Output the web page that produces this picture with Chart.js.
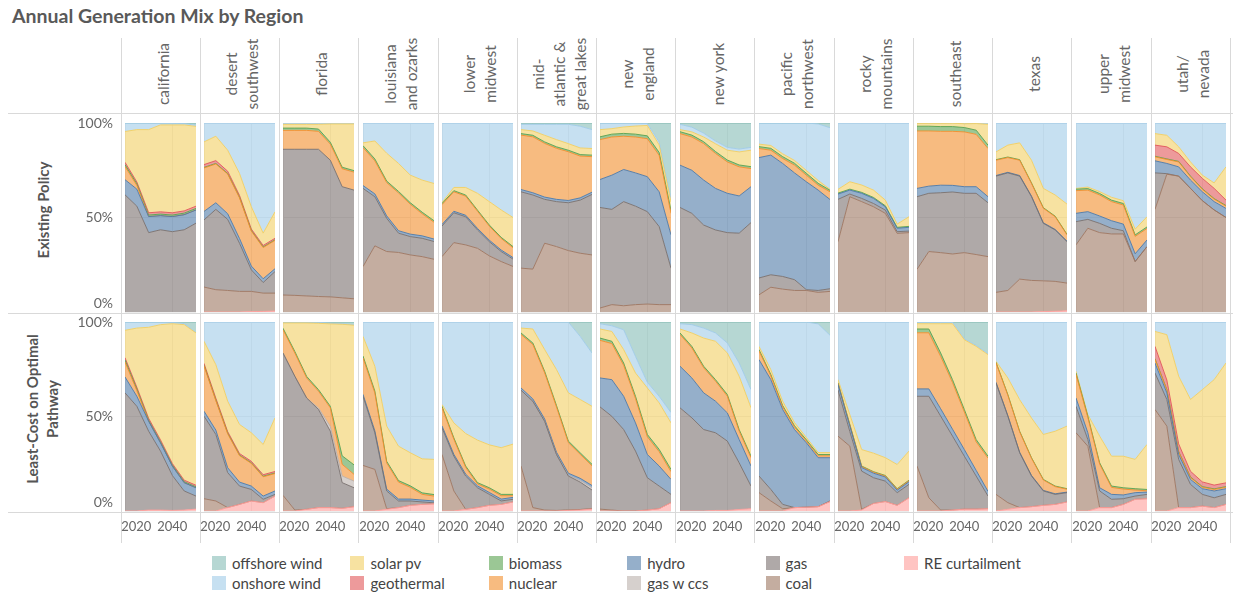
<!DOCTYPE html>
<html>
<head>
<meta charset="utf-8">
<script src="https://cdn.jsdelivr.net/npm/chart.js@4.4.1/dist/chart.umd.min.js"></script>
<style>
  body { margin: 0; background: #fff; font-family: Lato, sans-serif; }
  #wrap { position: relative; width: 1233px; height: 594px; overflow: hidden; }
  .title { position: absolute; left: 12px; top: 4px; font-size: 19.5px; font-weight: bold; color: #595959; white-space: nowrap; }
  .vline { position: absolute; width: 1px; background: #d9d9d9; }
  .hline { position: absolute; height: 1px; background: #d9d9d9; }
  .colhead { position: absolute; width: 76px; text-align: center; color: #666; font-size: 15.5px; line-height: 21px;
             transform: translate(-50%, -50%) rotate(-90deg); white-space: nowrap; }
  .rowhead { position: absolute; width: 190px; text-align: center; color: #555; font-size: 15px; font-weight: bold;
             line-height: 20px; transform: translate(-50%, -50%) rotate(-90deg); white-space: nowrap; }
  .lgbox { position: absolute; width: 14px; height: 14px; }
  .lgtxt { position: absolute; font-size: 15px; color: #444; line-height: 18px; white-space: nowrap; }
  canvas { position: absolute; }
</style>
</head>
<body>
<div id="wrap">
  <div class="title">Annual Generation Mix by Region</div>
</div>
<script>
// years and regions
const years = [2020, 2025, 2030, 2035, 2040, 2045, 2050];
const regions = [
  ['california'], ['desert', 'southwest'], ['florida'], ['louisiana', 'and ozarks'],
  ['lower', 'midwest'], ['mid-', 'atlantic &', 'great lakes'], ['new', 'england'], ['new york'],
  ['pacific', 'northwest'], ['rocky', 'mountains'], ['southeast'], ['texas'],
  ['upper', 'midwest'], ['utah/', 'nevada']
];
const scenarios = [['Existing Policy'], ['Least-Cost on Optimal', 'Pathway']];
const xTicks = [2020, 2040];
const yTicks = [0, 0.5, 1];

// share of generation (%), one row per region, one value per year
// --- Existing Policy ---
const curtExisting = [
  [0,0,0,0,0,0,0], [0,0,0,0,0.2,0.3,0.5], [0,0,0,0,0,0,0], [0,0,0,0,0,0,0],
  [0,0,0,0,0,0,0], [0,0,0,0,0,0,0], [0,0,0,0,0,0,0], [0,0,0,0,0,0,0],
  [0,0,0,0,0,0,0], [0,0,0,0,0,0,0], [0,0,0,0,0,0,0], [0,0,0,0,0.2,0.4,0.6],
  [0,0,0,0,0,0,0], [0,0,0,0,0,0,0]
];
const coalExisting = [
  [0,0,0,0,0,0,0], [13.2,11.8,11.4,10.9,10.7,9.7,9.5], [9,8.8,8.5,8.2,8,7.5,7], [24,35,32,31.5,30.2,29.3,27.9],
  [29.3,36.7,35.5,33.7,29.7,26.7,24.1], [23.2,22.7,36.4,34.6,32.5,31.1,30.2], [2.1,3.9,3.3,3.9,4.2,3.9,3.9], [0,0,0,0,0,0,0],
  [9.1,13.1,12.1,11.4,11.4,10.4,10.9], [37.2,61,58.4,55.7,52.2,41.6,42], [22.6,32,31.4,30.7,31.4,30.4,29.3], [10.4,11.4,17.4,16.7,16.3,15.8,14.7],
  [35.5,44.3,42,41.3,41.3,26.7,34.6], [54.3,72.9,71.9,65.4,58.9,54,50]
];
const gasExisting = [
  [62,56,42,43.5,42.5,43.5,47], [35.5,42.5,37.6,25.5,11.4,5.6,11.4], [77.1,77.3,77.6,77.9,72.3,58.8,57.5], [41.4,26,17.6,10.2,9.7,9.7,9.4],
  [16.2,15.8,14.9,9.7,7.5,5.3,3.9], [40.4,39.2,23.2,23.8,25.3,28.1,32], [53.2,50.4,55.1,52.1,48.9,41.3,19.3], [55.3,52.2,46,43.4,42,41.7,47.3],
  [8.9,6.6,6.7,5.7,0.4,1,1.4], [22.4,1.4,1.7,1.7,1.7,0.9,0.8], [38.4,30.8,31.7,32.8,31.4,32.4,28.5], [61.5,62.2,54.5,44.3,30.4,27.2,21.9],
  [12.3,4.7,4.9,3,1.7,0,0], [19.3,0.3,0,0,0,0,0]
];
const ccsExisting = [
  [0,0,0,0,0,0,0], [0,0,0,0,0,0,0], [0,0,0,0,0,0,0], [0,0,0,0,0,0,0],
  [0,0,0,0,0,0,0], [0,0,0,0,0,0,0], [0,0,0,0,0,0,0], [0,0,0,0,0,0,0],
  [0,0,0,0,0,0,0], [0,0,0,0,0,0,0], [0,0,0,0,0,0,0], [0,0,0,0,0,0,0],
  [0,0,0,0,0,0,0], [0,0,0,0,0,0,0]
];
const hydroExisting = [
  [8,9,8.5,7.5,8,8,7], [4.5,3.5,3,2.5,2,2,1.5], [0,0,0,0,0,0,0], [1.5,1.5,1.3,1.3,1.3,1.3,1.3],
  [0.8,0.8,0.8,0.8,0.8,0.8,0.8], [1.2,1.2,1.2,1.2,1.2,1.2,1.2], [14.8,18.1,17,17.6,18.5,18.4,17.6], [22.4,22.8,23.8,22,20.8,19.7,19],
  [63.7,63.3,59.8,56.5,57.1,53.1,47.2], [2.8,2.1,2.7,2.7,1.8,1.8,2], [4.4,3.8,4,3.5,3.5,3.5,3.2], [0.3,0.3,0.3,0.3,0.3,0.3,0.3],
  [4.4,4.1,3.9,4,3.5,4.1,3.5], [6.4,5.4,4.9,4.4,4.7,4.4,4.8]
];
const nuclearExisting = [
  [7,2,0,0,0,0,0], [23,20.5,21,21.5,18.5,16.5,15], [10,10,10,9.5,8.5,9.5,9.5], [20.1,17.5,17.6,20,15.8,11.7,8.9],
  [10.5,10.3,10.1,9.1,7.4,6.1,5.2], [28.8,29.6,28.4,27,25.8,22.1,18.8], [21.1,20.2,17.6,19,20.1,19.3,11.4], [16.7,17.6,19.3,18.5,16.6,15.4,9.6],
  [4.8,2.6,2.6,4.1,3.5,2.6,4.1], [0,0,0,0,0,0,0], [30.4,29.2,28.5,28.6,29,27.7,25.5], [8.1,7.8,8.1,6.7,7.7,6.7,3.3],
  [12,11.4,11.1,10.1,10.1,9.2,6.1], [2.1,2.1,2.6,1.8,1.3,1.3,1.2]
];
const biomassExisting = [
  [1,0.8,0.8,0.8,0.8,0.8,0.8], [0.3,0.3,0.3,0.3,0.3,0.3,0.3], [1.2,1.2,1.2,1.2,1,0.8,0.8], [1,1,0.8,0.8,0.8,0.8,0.8],
  [0.6,0.6,0.6,0.6,0.6,0.6,0.6], [0.8,0.8,0.8,0.8,0.8,0.8,0.8], [1.5,1.5,1.5,1.5,1.5,1.5,1.5], [1,1,1,1,1,1,1],
  [1,1,1,1,1,1,0.8], [0.5,0.5,0.5,0.5,0.5,0.5,0.5], [2.5,2.5,2.5,2.5,2.3,2.2,1.8], [0.3,0.3,0.3,0.3,0.3,0.3,0.3],
  [0.8,0.8,0.8,0.8,0.8,0.8,0.8], [0.3,0.3,0.3,0.3,0.3,0.3,0.3]
];
const geoExisting = [
  [1.2,1,1.2,1.2,1.2,1.2,1.2], [1.5,1.5,1.2,1,0.8,0.8,0.8], [0,0,0,0,0,0,0], [0,0,0,0,0,0,0],
  [0,0,0,0,0,0,0], [0,0,0,0,0,0,0], [0,0,0,0,0,0,0], [0,0,0,0,0,0,0],
  [0,0,0,0,0,0,0], [0,0,0,0,0,0,0], [0,0,0,0,0,0,0], [0,0,0,0,0,0,0],
  [0,0,0,0,0,0,0], [5.9,6.4,4.2,4.9,5.5,5.4,2.9]
];
const solarExisting = [
  [16.3,27.7,44,46,46.5,45.5,42.2], [12,12.9,11.1,11.6,11.8,6.5,14], [2,2,2,2.5,9.7,22.9,24.7], [1.5,9.5,14.7,14.8,14.6,17,19.7],
  [0.5,1.7,4,8.9,12.4,14.5,15.4], [2.1,2.3,3.5,3.8,3.5,3.5,3.5], [3.8,2.9,3.4,4.3,5.5,4,4.5], [1.1,1.7,2.5,4.1,5.2,6.9,8.7],
  [1.3,1.5,1.5,1.5,1.5,1.5,0.5], [2,3.9,3.9,3.9,3,1.7,5.1], [1.5,1.5,1.7,1.8,2,3.5,11], [4.1,6.3,8.9,12,10.2,11.2,16],
  [0.4,0.8,1,1.5,1.5,3,5.4], [6.1,6.1,3.5,2.6,1.7,2.9,17.6]
];
const onshoreExisting = [
  [4.5,3.5,3.5,1,1,0.7,0.6], [10,7,14.4,26.7,44.3,58.3,47], [0.7,0.7,0.7,0.7,0.5,0.5,0.5], [10.5,9.5,16,21.4,27.6,30.2,32],
  [42.1,34.1,34.1,37.2,41.6,46,50], [2.8,3.5,5.8,8.1,10.2,11.5,10], [3.5,3,2.1,1.6,1,1.5,1.5], [2.8,2.5,2,1.5,1.5,1.5,1.5],
  [11.2,11.9,16.3,19.8,25.1,29.9,32.6], [35.1,31.1,32.8,35.5,40.8,53.5,49.6], [0.2,0.2,0.2,0.2,0.2,0.3,0.7], [15.3,11.7,10.5,19.7,34.6,38.1,42.9],
  [34.6,33.9,36.3,39.3,41.1,56.2,49.6], [5.6,6.5,12.6,20.6,27.6,31.7,23.2]
];
const offshoreExisting = [
  [0,0,0,0,0,0.3,1.2], [0,0,0,0,0,0,0], [0,0,0,0,0,0,0], [0,0,0,0,0,0,0],
  [0,0,0,0,0,0,0], [0.7,0.7,0.7,0.7,0.7,1.7,3.5], [0,0,0,0,0.3,10.1,40.3], [0.7,2.2,5.4,9.5,12.9,13.8,12.9],
  [0,0,0,0,0,0.5,2.5], [0,0,0,0,0,0,0], [0,0,0,0,0,0,0], [0,0,0,0,0,0,0],
  [0,0,0,0,0,0,0], [0,0,0,0,0,0,0]
];

// --- Least-Cost on Optimal Pathway ---
const curtLeastCost = [
  [0,0,0.5,0.5,0.3,0.5,1], [0,0,1.8,3.5,5.3,4.4,7.9], [0,0,0.9,1.8,1.8,1.4,2.3], [0,0,0.9,1.8,3,3.5,3.8],
  [0,0,0.9,1.8,3,3.5,4.8], [0,0,0,0,0.3,0.5,1], [0,0,0,0,0.5,1.2,4.4], [0,0,0,0.3,0.3,0.8,1.2],
  [0,0,0,1.8,2,2.3,5], [0,0,0.5,4,5,3,7], [0,0,0,0.5,1,1,1.2], [0,0.9,1.8,2.3,3,3.5,4.8],
  [0,0,1.8,1.8,3.5,6.2,6.5], [0,0,1.8,1.8,2.6,1.8,3.5]
];
const coalLeastCost = [
  [0,0,0,0,0,0,0], [6.5,5.3,0,0,0,0,0], [8.3,0.5,0,0,0,0,0], [24.1,22,0.3,0,0,0,0],
  [29.9,10.6,0,0,0,0,0], [23.8,1.8,0.5,0.3,0.3,0.3,0.3], [1,0.5,0,0,0,0,0], [0,0,0,0,0,0,0],
  [9.7,5.3,1.2,0,0,0,0], [39.6,34.3,0.4,0,0,0,0], [23.8,7,0.5,0,0,0,0], [8.8,3.5,0,0,0,0,0],
  [41.4,34.3,0,0,0,0,0], [53.7,44.9,0,0,0,0,0]
];
const gasLeastCost = [
  [62.5,55.4,41.7,31.2,18.5,10.1,6.9], [43.7,35.2,18.5,9.7,6.1,1.8,0.9], [75.3,70.8,58.9,51.9,40.4,13.6,10], [36.6,19.4,9.4,3.5,2.3,1.3,0.5],
  [14.1,18.4,17.6,10.5,5.8,1.8,1.4], [40.1,56.3,47,29.6,17.9,14.5,9.8], [54.1,49.6,43.1,31.7,17.1,12,4.4], [54.6,49.3,43.1,41.1,36.7,24.7,12],
  [8.8,6.1,2.3,0,0,0,0.3], [24.4,7.7,20.2,13.6,10.8,6.7,7.1], [36.9,53.7,49.7,39.1,28,17.5,6.7], [59,45.8,29,16.2,7.6,5.3,4.9],
  [14,3.5,8.8,4.4,3,1.7,2.3], [19.3,14.1,25.5,12.3,6.2,5.2,5.3]
];
const ccsLeastCost = [
  [0,0,0,0,0,0,0], [0,0,0,0,0,0,0], [0,0,0,0.8,2.5,3.5,3.5], [0,0,0,0,0,0,0],
  [0,0,0,0,0,0,0], [0,0,0,0,0.3,0.8,1.2], [0,0,0,0,0,0,0], [0,0,0,0,0,0,0],
  [0,0,0,0,0,0,0], [0,0,0,0,0,0,0], [0,0,0,0,0,0,0], [0,0,0,0,0,0,0],
  [0,0,0,0,0,0,0], [0,0,0,0,0,0,0]
];
const hydroLeastCost = [
  [8.4,5.3,5.3,4.4,5,4.4,4.4], [2.6,2.3,2.6,2.1,1.8,1.7,1.8], [0,0,0,0,0,0,0], [1,1,1,1,1,1,1],
  [1,1,1,1,1,1,1], [1.2,1.2,1.2,1.2,1.2,1.2,1.2], [15.3,19.4,17.6,14.9,12.3,10.6,7.9], [22,21.1,19.4,16.7,14.9,12.3,10.6],
  [61.6,58.1,50.2,41.3,34.1,25.9,22.9], [3,3,1.9,2.4,2.2,1.3,1.4], [3.9,3.9,3.9,3.7,3.5,3,2.5], [0.3,0.3,0.3,0.3,0.3,0.3,0.3],
  [4.4,3.6,1.7,2.6,2,1.8,1.2], [5.3,3.5,2.6,2.6,3,3.6,3]
];
const nuclearLeastCost = [
  [8,3,0,0,0,0,0], [24,15.6,18,14,12,10.2,9.2], [12.3,12.3,10.6,8.9,9.9,6.2,3.6], [19.3,20.1,13.9,9,6.2,3,2.6],
  [9.7,8,3.6,1,1.8,1.8,0.9], [28.3,28.8,24.4,23.9,16.2,12.7,10.4], [19.9,19.1,16.4,12.9,9.4,7.6,4.1], [16.8,15.9,13.3,10.6,8.9,4.5,4.4],
  [4.6,2,1.4,1.3,0.9,1,1], [0.5,0.5,0.5,0.5,0.5,0.5,0.5], [29.7,29.7,27.7,24.7,19.9,15.1,17.6], [10.3,10.8,10.8,9.1,5.5,3.8,1.5],
  [12.5,8.1,12.5,3.7,3.1,1.4,0.7], [2,1.5,1.3,1,0.8,0.8,0.8]
];
const biomassLeastCost = [
  [1,0.8,0.5,0.5,0.5,0.5,0.5], [0.3,0.3,0.3,0.3,0.3,0.3,0.3], [0.8,0.8,0.8,0.8,0.8,4.5,5], [1,1,0.8,0.8,0.8,0.8,0.8],
  [0.7,0.7,0.7,0.7,0.7,0.7,0.7], [0.8,0.8,0.8,0.8,0.8,0.8,0.8], [1.2,1.2,1.2,1.2,1.2,1.2,1.2], [0.8,0.8,0.8,0.8,0.8,0.8,0.8],
  [0.7,0.7,0.7,0.7,0.7,0.7,0.7], [0.3,0.3,0.3,0.3,0.3,0.3,0.3], [2,2,1.8,1.5,1.3,1.2,1], [0.3,0.3,0.3,0.3,0.3,0.3,0.3],
  [0.7,0.7,0.7,0.7,0.7,0.7,0.7], [0.3,0.3,0.3,0.3,0.3,0.3,0.3]
];
const geoLeastCost = [
  [1.2,1,1,1,0.8,0.8,0.8], [1,1,0.8,0.8,0.8,0.8,0.8], [0,0,0,0,0,0,0], [0,0,0,0,0,0,0],
  [0,0,0,0,0,0,0], [0,0,0,0,0,0,0], [0,0,0,0,0,0,0], [0,0,0,0,0,0,0],
  [0,0,0,0,0,0,0], [0,0,0,0,0,0,0], [0,0,0,0,0,0,0], [0,0,0,0,0,0,0],
  [0,0,0,0,0,0,0], [6.5,5,4,3,2.5,2,2]
];
const solarLeastCost = [
  [14.5,31.3,48.2,61,74,82.3,80.6], [11.7,17.7,16.1,15.4,15.1,16,28.4], [2.8,15.1,28.3,35.1,43.6,69.6,73.9], [10.4,13.1,18.6,18.2,17.5,18,18.6],
  [0.9,7.9,17.2,22.5,22.7,24.7,26.6], [2.6,7.4,11.5,19,25.5,28.2,30.7], [4.8,5.2,7.1,12.3,24.6,24.6,24.6], [2.1,7.1,14.9,20.3,22,28.2,25.6],
  [1.7,2.6,2.3,1.7,1.2,1,1], [1.7,5.2,8.7,9.8,9.4,12.8,15.4], [2.8,2.8,15.5,29.6,36.9,49.3,53.7], [0.5,8.8,16.7,21,23.8,29,33.1],
  [0.9,0.8,14.1,15.8,16.7,15.5,23.8], [7.9,24,35.8,38,48.8,55.8,63.4]
];
const onshoreLeastCost = [
  [4.4,3.2,2.8,1.4,0.7,0.6,0.2], [10.2,22.6,41.9,54.2,58.6,64.8,50.7], [0.5,0.5,0.5,0.5,0.3,0.2,0.2], [7.6,23.4,55.1,65.7,69.2,72.4,72.7],
  [43.7,53.4,59,62.5,65,66.5,64.5], [3.2,3.7,14.6,25.2,37.5,33.4,28.2], [2.8,3,10.5,8.8,3,3.5,5.5], [2.8,4.4,5.3,4.4,5.3,7,9.6],
  [12.9,25.2,41.9,53.2,61.1,68.1,62.1], [30.5,49,67.5,69.4,71.8,75.4,68.3], [0.9,0.9,0.9,0.9,0.5,0.5,0.5], [20.8,29.6,41.1,50.8,59.5,57.8,55.1],
  [26.1,49,60.4,71,71,72.7,64.8], [5,6.7,28.7,41,35.8,30.5,21.7]
];
const offshoreLeastCost = [
  [0,0,0,0,0.2,0.8,5.6], [0,0,0,0,0,0,0], [0,0,0,0.2,0.7,1,1.5], [0,0,0,0,0,0,0],
  [0,0,0,0,0,0,0], [0,0,0,0,0,7.6,16.4], [0.9,2,4.1,18.2,31.9,39.3,47.9], [0.9,1.4,3.2,5.8,11.1,21.7,35.8],
  [0,0,0,0,0,1,7], [0,0,0,0,0,0,0], [0,0,0,0,8.9,12.4,16.8], [0,0,0,0,0,0,0],
  [0,0,0,0,0,0,0], [0,0,0,0,0,0,0]
];

// stacking order: bottom to top
const techs = [
  { name: 'RE curtailment', color: '#FF9D9A', values: [curtExisting, curtLeastCost] },
  { name: 'coal', color: '#9D7660', values: [coalExisting, coalLeastCost] },
  { name: 'gas', color: '#79706E', values: [gasExisting, gasLeastCost] },
  { name: 'gas w ccs', color: '#BAB0AC', values: [ccsExisting, ccsLeastCost] },
  { name: 'hydro', color: '#4E79A7', values: [hydroExisting, hydroLeastCost] },
  { name: 'nuclear', color: '#F28E2B', values: [nuclearExisting, nuclearLeastCost] },
  { name: 'biomass', color: '#59A14F', values: [biomassExisting, biomassLeastCost] },
  { name: 'geothermal', color: '#E15759', values: [geoExisting, geoLeastCost] },
  { name: 'solar pv', color: '#F1CE63', values: [solarExisting, solarLeastCost] },
  { name: 'onshore wind', color: '#A0CBE8', values: [onshoreExisting, onshoreLeastCost] },
  { name: 'offshore wind', color: '#86BCB6', values: [offshoreExisting, offshoreLeastCost] }
];

// legend layout (column, row) like the original
const legendOrder = [
  ['offshore wind', 0, 0], ['onshore wind', 0, 1], ['solar pv', 1, 0], ['geothermal', 1, 1],
  ['biomass', 2, 0], ['nuclear', 2, 1], ['hydro', 3, 0], ['gas w ccs', 3, 1],
  ['gas', 4, 0], ['coal', 4, 1], ['RE curtailment', 5, 0]
];

function fade(hex, a) {
  const n = parseInt(hex.slice(1), 16);
  return `rgba(${n >> 16},${(n >> 8) & 255},${n & 255},${a})`;
}

const wrap = document.getElementById('wrap');
function add(cls, css, html) {
  const d = document.createElement('div');
  d.className = cls;
  d.style.cssText = css;
  if (html) d.innerHTML = html;
  wrap.appendChild(d);
  return d;
}

// geometry
const divider = k => 120.7 + 79.22 * k;
const plotLeft = k => Math.round(divider(k) + 4.3);
const plotW = 71, plotH = 189;
const rowTop = [123, 322];

// frame lines
add('hline', 'left:8px;top:113px;width:1225px');
add('hline', 'left:8px;top:313px;width:1225px');
add('hline', 'left:8px;top:512px;width:1225px');
for (let k = 0; k <= regions.length; k++) {
  add('vline', `left:${Math.round(divider(k))}px;top:38px;height:505px`);
}

// headers
regions.forEach((lines, c) => {
  add('colhead', `left:${plotLeft(c) + 37.5}px;top:74px`, lines.join('<br>'));
});
add('rowhead', 'left:43px;top:210px', scenarios[0].join('<br>'));
add('rowhead', 'left:42px;top:409px', scenarios[1].join('<br>'));

// legend
legendOrder.forEach(([name, col, row]) => {
  const t = techs.find(d => d.name === name);
  const x = 212 + 138.4 * col, y = 556 + 20 * row;
  add('lgbox', `left:${x}px;top:${y}px;background:${fade(t.color, 0.6)}`);
  add('lgtxt', `left:${x + 20}px;top:${y - 2}px`, name);
});

Chart.defaults.font.family = 'Lato, sans-serif';
Chart.defaults.color = '#666';

function panel(c, r) {
  const firstCol = c === 0, bottom = r === 1;
  const padL = firstCol ? 72 : 40, padR = 6, padT = 24, padB = bottom ? 36 : 32;
  const cv = document.createElement('canvas');
  cv.width = plotW + padL + padR;
  cv.height = plotH + padT + padB;
  cv.style.left = (plotLeft(c) - padL) + 'px';
  cv.style.top = (rowTop[r] - padT) + 'px';
  wrap.appendChild(cv);

  const datasets = techs.map((t, i) => {
    const vals = t.values[r][c];
    return {
      label: t.name,
      data: years.map((yr, j) => ({ x: yr, y: vals[j] / 100 })),
      backgroundColor: fade(t.color, 0.6),
      borderColor: fade(t.color, 0.9),
      // series that are empty in this panel get no outline
      borderWidth: vals.some(v => v > 0) ? 1 : 0,
      pointRadius: 0,
      tension: 0,
      fill: i === 0 ? 'origin' : '-1'
    };
  });

  new Chart(cv, {
    type: 'line',
    data: { datasets },
    options: {
      responsive: false,
      animation: false,
      events: [],
      layout: { padding: { left: firstCol ? 0 : padL, right: padR, top: padT, bottom: bottom ? 8 : padB } },
      plugins: { legend: { display: false }, tooltip: { enabled: false } },
      scales: {
        x: {
          type: 'linear', min: 2020, max: 2050,
          afterBuildTicks: s => { s.ticks = xTicks.map(v => ({ value: v })); },
          grid: { color: '#ececec', drawTicks: false },
          border: { display: false },
          ticks: {
            display: bottom, padding: 8, color: '#666', font: { size: 13 },
            maxRotation: 0, autoSkip: false,
            callback: v => v === 2020 ? '\u2007\u2007\u20072020' : String(v)
          },
          afterFit: s => { s.height = bottom ? 28 : 0; }
        },
        y: {
          stacked: true, min: 0, max: 1,
          afterBuildTicks: s => { s.ticks = yTicks.map(v => ({ value: v })); },
          grid: { color: '#ececec', drawTicks: false },
          border: { display: false },
          ticks: {
            display: firstCol, padding: 12, color: '#666', font: { size: 14 },
            callback: v => v === 0 ? ['0%', ''] : Math.round(v * 100) + '%'
          },
          afterFit: s => { s.width = firstCol ? 72 : 0; }
        }
      }
    }
  });
}

regions.forEach((reg, c) => { panel(c, 0); panel(c, 1); });
</script>
</body>
</html>
